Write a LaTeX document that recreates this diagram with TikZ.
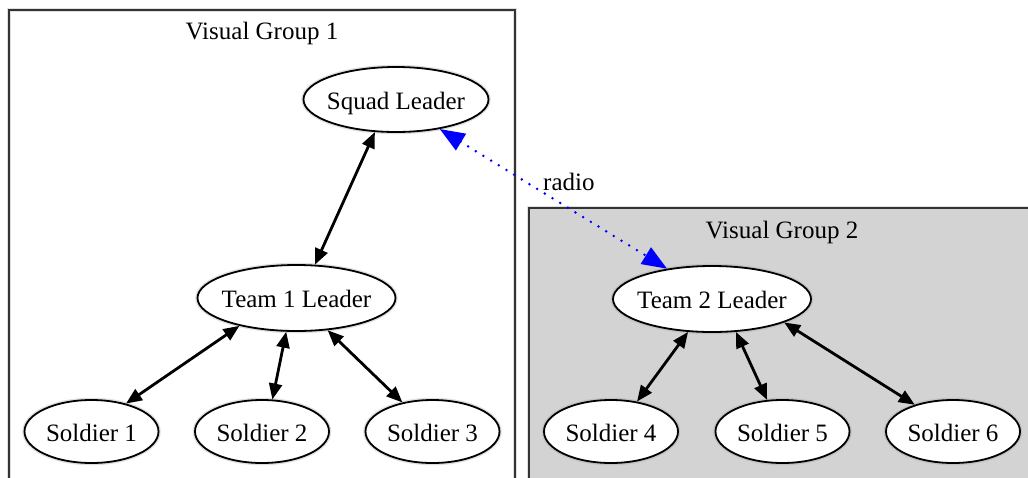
\documentclass[tikz,border=0pt]{standalone}
\usepackage{fontspec}
\setmainfont{Liberation Serif}
\usetikzlibrary{arrows.meta,shapes.geometric}
\definecolor{clustergray}{RGB}{211,211,211}
\definecolor{framegray}{RGB}{51,51,51}
\begin{document}
\begin{tikzpicture}[x=1pt,y=-1pt,
  every node/.style={font=\fontsize{25}{30}\selectfont},
  halo/.style={preaction={draw=black!40, line width=4.5pt, opacity=0.3}},
  cluster/.style={draw=framegray, line width=2pt, halo},
  person/.style={ellipse, draw=black, line width=1.8pt, fill=white, inner sep=0pt,
    text height=19pt, text depth=0pt, halo},
  leader/.style={person, minimum width=198pt, minimum height=66pt},
  squad/.style={person, minimum width=185pt, minimum height=65pt},
  soldier/.style={person, minimum width=134pt, minimum height=63pt},
  link/.style={draw=black, line width=2.8pt,
    arrows={Triangle[length=16pt,width=13pt]-Triangle[length=16pt,width=13pt]}},
  radiolink/.style={draw=blue, line width=2.8pt, line cap=round, dash pattern=on 0pt off 9pt,
    arrows={Triangle[length=25pt,width=19pt]-Triangle[length=25pt,width=19pt]}},
  title/.style={inner sep=0pt}
]
\useasboundingbox (0,0) rectangle (1028,477);
\clip (0,0) rectangle (1028,477);
\fill[white] (0,0) rectangle (1028,477);

% clusters
\draw[cluster, fill=clustergray] (529,208) rectangle (1045,500);
\draw[cluster] (9,10) rectangle (515,500);
\node[title] (g1) at (262,33) {Visual Group 1};
\node[title] (g2) at (782,232) {Visual Group 2};

% nodes
\node[squad]   (sq) at (396,99.5)  {\makebox[0pt]{Squad Leader}};
\node[leader]  (t1) at (296.5,298) {\makebox[0pt]{Team 1 Leader}};
\node[leader]  (t2) at (712,299)   {\makebox[0pt]{Team 2 Leader}};
\node[soldier] (s1) at (91.5,431.5)  {\makebox[0pt]{Soldier 1}};
\node[soldier] (s2) at (262,431.5)   {\makebox[0pt]{Soldier 2}};
\node[soldier] (s3) at (432.5,431.5) {\makebox[0pt]{Soldier 3}};
\node[soldier] (s4) at (611,431.5)   {\makebox[0pt]{Soldier 4}};
\node[soldier] (s5) at (782.5,431.5) {\makebox[0pt]{Soldier 5}};
\node[soldier] (s6) at (953,431.5)   {\makebox[0pt]{Soldier 6}};

% connectors
\draw[link] (sq.237.8) -- (t1.61.5);
\draw[link] (t1.206.4) -- (s1.39);
\draw[link] (t1.253.7) -- (s2.72.3);
\draw[link] (t1.314.6) -- (s3.136);
\draw[link] (t2.234.8) -- (s4.49.4);
\draw[link] (t2.306.3) -- (s5.116.9);
\draw[link] (t2.342.5) -- (s6.145.1);
\draw[radiolink] (sq.326.5) -- node[midway, xshift=15.5pt, yshift=17pt, inner sep=0pt, text=black] (lbl) {radio} (t2.146.6);
\end{tikzpicture}
\end{document}
